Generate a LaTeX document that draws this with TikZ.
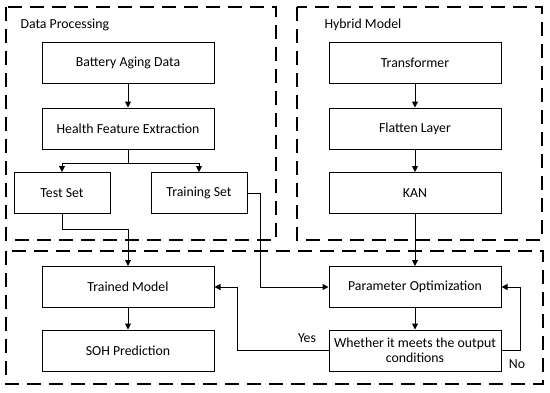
\documentclass[tikz,border=0pt]{standalone}
\usepackage{fontspec}
\setmainfont{Carlito}
\usepackage{tikz}
\usetikzlibrary{arrows.meta,positioning,calc}

\begin{document}
\begin{tikzpicture}[x=1pt,y=-1pt,
  blk/.style={draw,line width=1pt,minimum width=172pt,minimum height=41pt,
              inner sep=0pt,align=center,font=\fontsize{13.8}{15}\selectfont},
  sblk/.style={blk,minimum width=96pt},
  grp/.style={line width=1.4pt,dash pattern=on 14pt off 8pt},
  arr/.style={-{Triangle[length=6pt,width=6pt]},line width=1pt},
  lbl/.style={font=\fontsize{13.8}{15}\selectfont}
]
\useasboundingbox (0,0) rectangle (550,392);
% group frames
\draw[grp] (6,7) rectangle (276,240);
\draw[grp] (297,7) rectangle (542,240);
\draw[grp] (6,251) rectangle (543,384);
\node[lbl,anchor=west] (dptitle) at (17,25) {Data Processing};
\node[lbl,anchor=west] (hmtitle) at (321,25) {Hybrid Model};
% data processing
\node[blk] (bad) at (128,63) {Battery Aging Data};
\node[blk] (hfe) at (128,128.5) {Health Feature Extraction};
\node[sblk] (test) at (62,193) {Test Set};
\node[sblk] (train) at (199,193) {Training Set};
% hybrid model
\node[blk] (trm) at (415,63) {Transformer};
\node[blk] (flat) at (415,128.5) {Flatten Layer};
\node[blk] (kan) at (415,193) {KAN};
% training and prediction
\node[blk] (trained) at (128,287) {Trained Model};
\node[blk] (soh) at (128,350.5) {SOH Prediction};
\node[blk] (popt) at (415,287) {Parameter Optimization};
\node[blk] (cond) at (415,350.5) {Whether it meets the output\\conditions};
\draw[arr] (bad) -- (hfe);
\draw[arr] (hfe.south) -- ++(0,14) -| (test.north);
\draw[arr] (hfe.south) -- ++(0,14) -| (train.north);
\draw[arr] (trm) -- (flat);
\draw[arr] (flat) -- (kan);
\draw[arr] (test.south) -- ++(0,15) -| (trained.north);
\draw[arr] (train.east) -- ++(13,0) |- (popt.west);
\draw[arr] (kan) -- (popt);
\draw[arr] (trained) -- (soh);
\draw[arr] (popt) -- (cond);
\draw[arr] (cond.west) -- ++(-91,0) |- (trained.east);
\draw[arr] (cond.east) -- ++(19,0) |- (popt.east);
\node[lbl] (yes) at (307,338) {Yes};
\node[lbl] (no) at (517,364) {No};
\end{tikzpicture}
\end{document}
